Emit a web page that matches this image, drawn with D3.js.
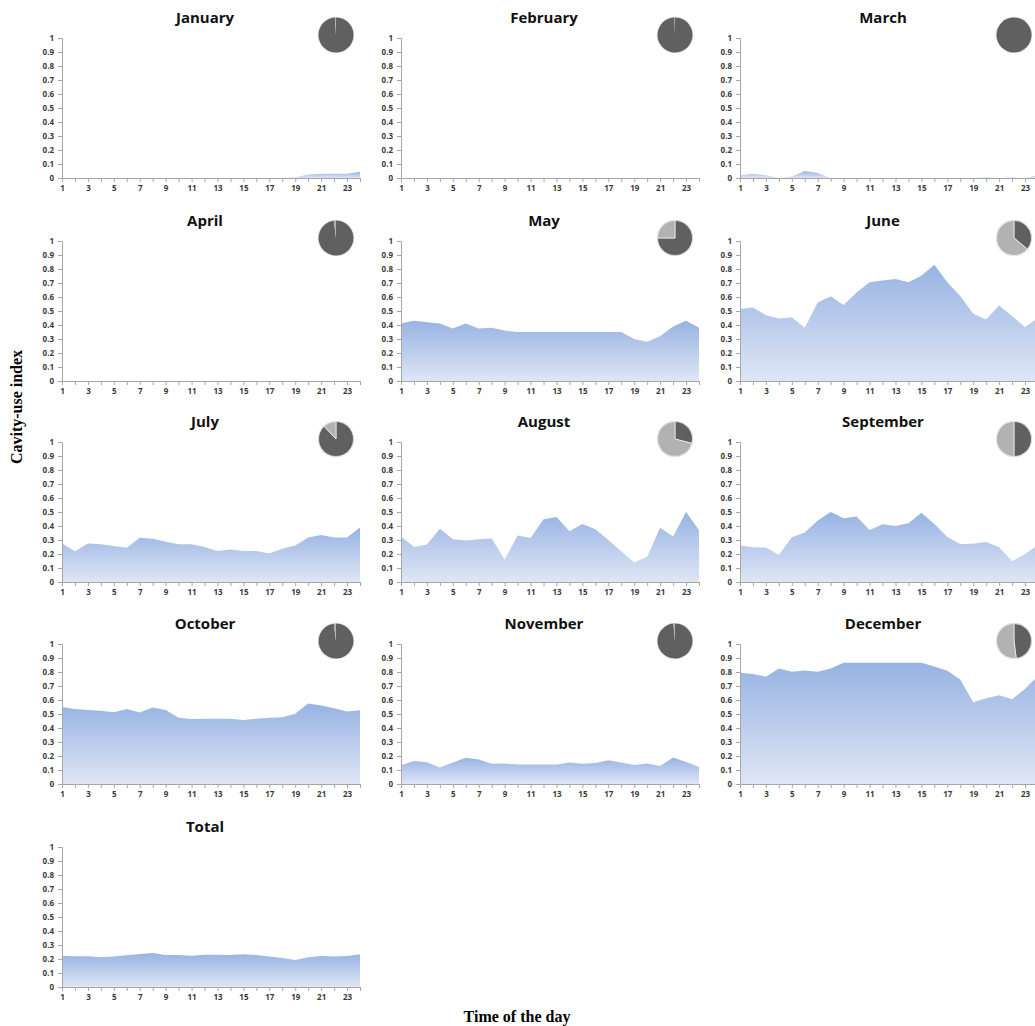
<!DOCTYPE html>
<html>
<head>
<meta charset="utf-8">
<script src="https://cdn.jsdelivr.net/npm/d3@7"></script>
<style>
  body { margin: 0; background: #ffffff; }
  svg { display: block; }
  .tick text { font-family: "Open Sans", "Liberation Sans", sans-serif; font-size: 8px; font-weight: bold; fill: #3a3a3a; }
  .ptitle { font-family: "Open Sans", "Liberation Sans", sans-serif; font-size: 15px; font-weight: bold; fill: #111; }
  .axtitle { font-family: "Liberation Serif", "DejaVu Serif", serif; font-size: 16px; font-weight: bold; fill: #000; }
</style>
</head>
<body>
<svg id="chart" width="1035" height="1026"></svg>
<script>
// hours of the day (categories)
var hours = [1,2,3,4,5,6,7,8,9,10,11,12,13,14,15,16,17,18,19,20,21,22,23,24];
var xTickLabels = [1,3,5,7,9,11,13,15,17,19,21,23];
var yTicks = [0,0.1,0.2,0.3,0.4,0.5,0.6,0.7,0.8,0.9,1];

// cavity-use index per hour
var january   = [0,0,0,0,0,0,0,0,0,0,0,0,0,0,0,0,0,0,0.005,0.025,0.03,0.03,0.03,0.045];
var february  = [0,0,0,0,0,0,0,0,0,0,0,0,0,0,0,0,0,0,0,0,0,0,0,0];
var march     = [0.02,0.03,0.02,0,0.01,0.05,0.035,0,0,0,0,0,0,0,0,0,0,0,0,0.005,0,0.005,0,0.02];
var april     = [0,0,0,0,0,0,0,0,0,0,0,0,0,0,0,0,0,0,0,0,0,0,0,0];
var may       = [0.41,0.43,0.42,0.41,0.375,0.41,0.375,0.38,0.36,0.35,0.35,0.35,0.35,0.35,0.35,0.35,0.35,0.35,0.30,0.28,0.32,0.39,0.43,0.38];
var june      = [0.515,0.525,0.47,0.447,0.455,0.38,0.56,0.605,0.543,0.632,0.705,0.717,0.728,0.705,0.752,0.83,0.705,0.608,0.48,0.44,0.54,0.464,0.385,0.45];
var july      = [0.275,0.22,0.275,0.27,0.258,0.244,0.316,0.309,0.287,0.27,0.27,0.25,0.222,0.232,0.222,0.222,0.203,0.237,0.26,0.318,0.335,0.318,0.318,0.39];
var august    = [0.325,0.25,0.267,0.38,0.305,0.296,0.305,0.31,0.16,0.332,0.315,0.449,0.465,0.363,0.415,0.377,0.30,0.22,0.14,0.18,0.387,0.325,0.50,0.372];
var september = [0.26,0.248,0.246,0.193,0.32,0.353,0.44,0.50,0.456,0.468,0.372,0.413,0.40,0.42,0.494,0.415,0.322,0.272,0.274,0.286,0.248,0.148,0.20,0.265];
var october   = [0.55,0.536,0.529,0.524,0.512,0.536,0.51,0.546,0.529,0.474,0.464,0.466,0.466,0.466,0.457,0.466,0.474,0.476,0.502,0.575,0.56,0.541,0.517,0.526];
var november  = [0.134,0.165,0.155,0.117,0.153,0.187,0.175,0.144,0.146,0.139,0.139,0.139,0.139,0.153,0.144,0.15,0.17,0.153,0.136,0.146,0.129,0.19,0.158,0.122];
var december  = [0.794,0.785,0.766,0.825,0.801,0.811,0.801,0.825,0.866,0.866,0.866,0.866,0.866,0.866,0.866,0.84,0.809,0.746,0.584,0.612,0.634,0.605,0.68,0.77];
var total     = [0.224,0.219,0.219,0.212,0.217,0.226,0.236,0.243,0.229,0.229,0.224,0.231,0.231,0.229,0.234,0.229,0.217,0.207,0.193,0.212,0.222,0.217,0.222,0.234];

var panelNames = ["January","February","March","April","May","June","July","August","September","October","November","December","Total"];
var panelSeries = [january,february,march,april,may,june,july,august,september,october,november,december,total];
// inset pies: share of dark slice / light slice (Total has none)
var pieDark  = [0.99,0.995,1,0.98,0.75,0.36,0.88,0.29,0.5,0.98,0.985,0.48];
var pieLight = [0.01,0.005,0,0.02,0.25,0.64,0.12,0.71,0.5,0.02,0.015,0.52];

var svg = d3.select('#chart');
var W = 298, H = 140;
var colX = [62, 401, 740];
var rowY = [38, 241, 442, 644, 847];

var defs = svg.append('defs');
var grad = defs.append('linearGradient')
  .attr('id', 'areaGrad')
  .attr('x1', 0).attr('y1', 0).attr('x2', 0).attr('y2', 1);
grad.append('stop').attr('offset', '0%').attr('stop-color', '#97b3e3');
grad.append('stop').attr('offset', '100%').attr('stop-color', '#dfe6f5');

var x = d3.scalePoint().domain(hours).range([0, W]);
var y = d3.scaleLinear().domain([0, 1]).range([H, 0]);

var area = d3.area()
  .x(function(d, i) { return x(hours[i]); })
  .y0(H)
  .y1(function(d) { return y(d); });

var pie = d3.pie().sort(null).value(function(d) { return d; })
  .startAngle(0).endAngle(2 * Math.PI);
var arc = d3.arc().innerRadius(0).outerRadius(17.5);
var pieColors = ['#606060', '#b2b2b2'];

panelNames.forEach(function(name, k) {
  var col = k % 3, row = Math.floor(k / 3);
  var g = svg.append('g').attr('transform', 'translate(' + colX[col] + ',' + rowY[row] + ')');

  // area
  g.append('path')
    .datum(panelSeries[k])
    .attr('d', area)
    .attr('fill', 'url(#areaGrad)');

  // axes
  var yAxis = d3.axisLeft(y).tickValues(yTicks).tickSize(4).tickPadding(4)
    .tickFormat(function(d) { return d; });
  var xAxis = d3.axisBottom(x).tickValues(hours).tickSize(4).tickPadding(3)
    .tickFormat(function(d) { return xTickLabels.indexOf(d) >= 0 ? d : ''; });

  var ya = g.append('g').call(yAxis);
  var xa = g.append('g').attr('transform', 'translate(0,' + H + ')').call(xAxis);
  [ya, xa].forEach(function(a) {
    a.select('.domain').attr('stroke', '#a6a6a6').attr('stroke-width', 1);
    a.selectAll('.tick line').attr('stroke', '#a6a6a6');
  });

  // panel title
  g.append('text')
    .attr('class', 'ptitle')
    .attr('x', 143).attr('y', -15)
    .attr('text-anchor', 'middle')
    .text(name);

  // inset pie
  if (k < pieDark.length) {
    var pg = g.append('g').attr('transform', 'translate(274,-3)');
    pg.append('circle').attr('r', 18.3).attr('fill', '#e4e4e4');
    var slices = pie([pieDark[k], pieLight[k]]);
    pg.selectAll('path')
      .data(slices.filter(function(d) { return d.value > 0; }))
      .enter().append('path')
      .attr('d', arc)
      .attr('fill', function(d) { return pieColors[d.index]; })
      .attr('stroke', '#f4f4f4')
      .attr('stroke-width', function() { return slices[1].value > 0.05 ? 0.7 : 0; });
  }
});

// shared axis titles
svg.append('text')
  .attr('class', 'axtitle')
  .attr('transform', 'translate(22,407) rotate(-90)')
  .attr('text-anchor', 'middle')
  .text('Cavity-use index');

svg.append('text')
  .attr('class', 'axtitle')
  .attr('x', 517).attr('y', 1022)
  .attr('text-anchor', 'middle')
  .text('Time of the day');
</script>
</body>
</html>
